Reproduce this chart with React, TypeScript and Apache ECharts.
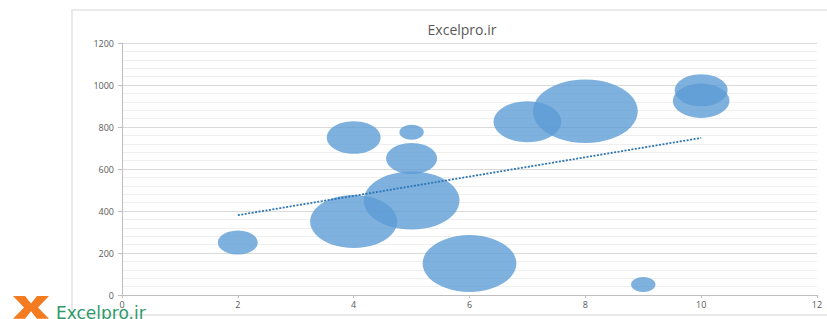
import React, { useEffect, useRef } from "react";
import * as echarts from "echarts";

const bubbleX = [2, 4, 5, 5, 4, 5, 6, 7, 8, 10, 10, 9];
const bubbleY = [250, 750, 775, 650, 350, 450, 150, 825, 875, 975, 925, 50];
const bubbleSize = [16, 29, 6, 26, 76, 92, 88, 46, 110, 28, 32, 6];
const trendX = [2, 10];
const trendY = [380, 748];
const chartTitle = "Excelpro.ir";
const brandText = "Excelpro.ir";

echarts.graphic.registerShape(
  "logo",
  echarts.graphic.extendPath(
    "M0 0 H12 L18 8 L24 0 H36 L25 12 L36 24 H24 L18 16 L12 24 H0 L11 12 Z",
    {}
  )
);

export default function App() {
  const ref = useRef<HTMLDivElement>(null);
  useEffect(() => {
    document.body.style.margin = "0";
    const chart = echarts.init(ref.current!, null, { renderer: "svg" });
    const font = "Open Sans";
    const bubbles = bubbleX.map((x, i) => [x, bubbleY[i], bubbleSize[i]]);
    const trend = trendX.map((x, i) => [x, trendY[i]]);
    chart.setOption({
      animation: false,
      backgroundColor: "#ffffff",
      title: {
        text: chartTitle,
        left: 457,
        top: 17,
        textAlign: "center",
        textStyle: { color: "#595959", fontSize: 14, fontWeight: "normal", fontFamily: font },
      },
      grid: { left: 122, right: 10, top: 43, bottom: 24 },
      xAxis: {
        type: "value",
        min: 0,
        max: 12,
        interval: 2,
        axisLine: { show: true, lineStyle: { color: "#bfbfbf", width: 1 } },
        axisTick: { show: true, length: 3, lineStyle: { color: "#bfbfbf" } },
        axisLabel: { color: "#595959", fontSize: 9, fontFamily: font, margin: 5, formatter: (v: number) => String(v) },
        splitLine: { show: false },
      },
      yAxis: {
        type: "value",
        min: 0,
        max: 1200,
        interval: 200,
        axisLine: { show: true, lineStyle: { color: "#bfbfbf", width: 1 } },
        axisTick: { show: true, length: 4, lineStyle: { color: "#bfbfbf" } },
        axisLabel: { color: "#595959", fontSize: 9, fontFamily: font, margin: 8, formatter: (v: number) => String(v) },
        splitLine: { show: true, lineStyle: { color: "#d9d9d9", width: 1 } },
        minorTick: { show: false, splitNumber: 5 },
        minorSplitLine: { show: true, lineStyle: { color: "#efefef", width: 1 } },
      },
      series: [
        {
          type: "scatter",
          data: bubbles,
          symbolSize: (v: number[]) => {
            const w = 10 * Math.sqrt(v[2]);
            return [w, w / 1.65];
          },
          itemStyle: { color: "#5b9bd5", opacity: 0.78 },
          z: 2,
        },
        {
          type: "line",
          data: trend,
          symbol: "none",
          lineStyle: { color: "#2e75b6", width: 1.8, type: [2, 1.5] },
          z: 3,
        },
      ],
      graphic: [
        {
          type: "rect",
          shape: { x: 72, y: 10, width: 800, height: 305 },
          style: { fill: "none", stroke: "#e3e3e3", lineWidth: 1.5 },
          z: -1,
        },
        {
          type: "logo",
          x: 13,
          y: 296,
          scaleX: 1.0,
          scaleY: 0.95,
          style: { fill: "#f47b20" },
        },
        {
          type: "text",
          x: 56,
          y: 304,
          style: {
            text: brandText,
            fill: "#2e9a6a",
            fontSize: 17,
            fontFamily: "DejaVu Sans",
          },
        },
      ],
    });
    return () => chart.dispose();
  }, []);
  return <div ref={ref} style={{ width: 827, height: 319 }} />;
}
